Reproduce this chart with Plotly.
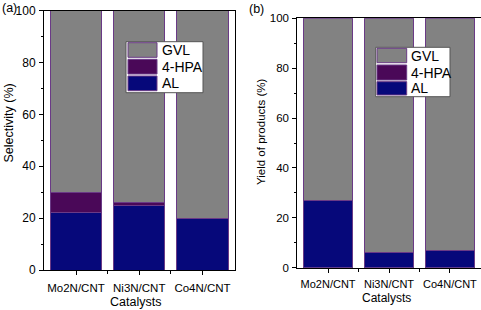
import plotly.graph_objects as go

categories = ["Mo2N/CNT", "Ni3N/CNT", "Co4N/CNT"]
series_names = ["AL", "4-HPA", "GVL"]
sel_AL = [22, 25, 20]
sel_HPA = [8, 1, 0]
sel_GVL = [70, 74, 80]
yld_AL = [27, 6, 7]
yld_HPA = [0, 0, 0]
yld_GVL = [73, 94, 93]
y_ticks = [0, 20, 40, 60, 80, 100]

colors = {"AL": "#06087a", "4-HPA": "#4a0858", "GVL": "#828282"}
edge = "#6a3a86"
FAM = "Liberation Sans, Arial"

W, H = 481, 310
def px(x):
    return x / W
def py(y):
    return 1 - y / H

xpos = list(range(len(categories)))

fig = go.Figure()
panels = [("x", "y", [sel_AL, sel_HPA, sel_GVL]), ("x2", "y2", [yld_AL, yld_HPA, yld_GVL])]
for xa, ya, vals in panels:
    for name, v in zip(series_names, vals):
        fig.add_trace(go.Bar(x=xpos, y=v, name=name, xaxis=xa, yaxis=ya,
                             marker=dict(color=colors[name], line=dict(color=edge, width=1)),
                             showlegend=False, width=0.81))

def axcommon(size, standoff):
    return dict(showline=True, linecolor="black", linewidth=1, mirror=True,
                ticks="outside", ticklen=4, tickcolor="black",
                tickfont=dict(family=FAM, size=size, color="black"),
                ticklabelstandoff=standoff, automargin=False,
                showgrid=False, zeroline=False)

xminor = dict(ticks="outside", ticklen=3, tickcolor="black", tickvals=[0.5, 1.5])
yminor = dict(ticks="outside", ticklen=2.5, tickcolor="black", dtick=10)

fig.update_layout(
    template="none",
    width=W, height=H, margin=dict(l=0, r=0, t=0, b=0, pad=0), autosize=False,
    paper_bgcolor="white", plot_bgcolor="white", barmode="stack",
    showlegend=False,
    xaxis=dict(domain=[px(44), px(234.5)], anchor="y", range=[-0.506, 2.506],
               tickvals=xpos, ticktext=categories, minor=xminor, **axcommon(11.5, 3)),
    yaxis=dict(domain=[py(270), py(10.5)], anchor="x", range=[0, 100], tickvals=y_ticks,
               minor=yminor, **axcommon(12, 1)),
    xaxis2=dict(domain=[px(297.3), 1.0], anchor="y2", range=[-0.505, 2.51],
                tickvals=xpos, ticktext=categories, minor=xminor, **axcommon(11, 2)),
    yaxis2=dict(domain=[py(267.7), py(18.3)], anchor="x2", range=[0, 100], tickvals=y_ticks,
                minor=yminor, **axcommon(11.5, 1)),
)

shapes = []
annotations = []
def text(t, x, y, size, angle=0, xanchor="center"):
    annotations.append(dict(text=t, xref="paper", yref="paper", x=px(x), y=py(y), xanchor=xanchor,
                            yanchor="middle", showarrow=False, textangle=angle,
                            font=dict(family=FAM, size=size, color="black")))

def legend(box, sw_x, rows, text_x, size):
    x0, y0, x1, y1 = box
    shapes.append(dict(type="rect", xref="paper", yref="paper", x0=px(x0), x1=px(x1), y0=py(y1), y1=py(y0),
                       fillcolor="white", line=dict(color="#555555", width=1)))
    for name, (ry0, ry1) in zip(["GVL", "4-HPA", "AL"], rows):
        shapes.append(dict(type="rect", xref="paper", yref="paper", x0=px(sw_x[0]), x1=px(sw_x[1]),
                           y0=py(ry1), y1=py(ry0), fillcolor=colors[name], line=dict(color=edge, width=1)))
        text(name, text_x, (ry0 + ry1) / 2, size, xanchor="left")

legend((126, 41.7, 203, 92.7), (128, 157), [(42.7, 57.3), (59.3, 74), (76, 90.7)], 160, 14)
legend((375.7, 47.3, 450, 96.7), (377, 406.7), [(48.3, 62.7), (65, 80), (81.7, 95)], 409, 14)

text("(a)", 0, 8, 12.5, xanchor="left")
text("(b)", 247, 9, 12.5, xanchor="left")
text("Catalysts", 135, 302, 12.5)
text("Catalysts", 386.5, 298, 12)
text("Selectivity (%)", 8, 123.5, 12.5, angle=-90)
text("Yield of products (%)", 261, 132, 11.5, angle=-90)

fig.update_layout(shapes=shapes, annotations=annotations)
fig.write_html("out.html")
